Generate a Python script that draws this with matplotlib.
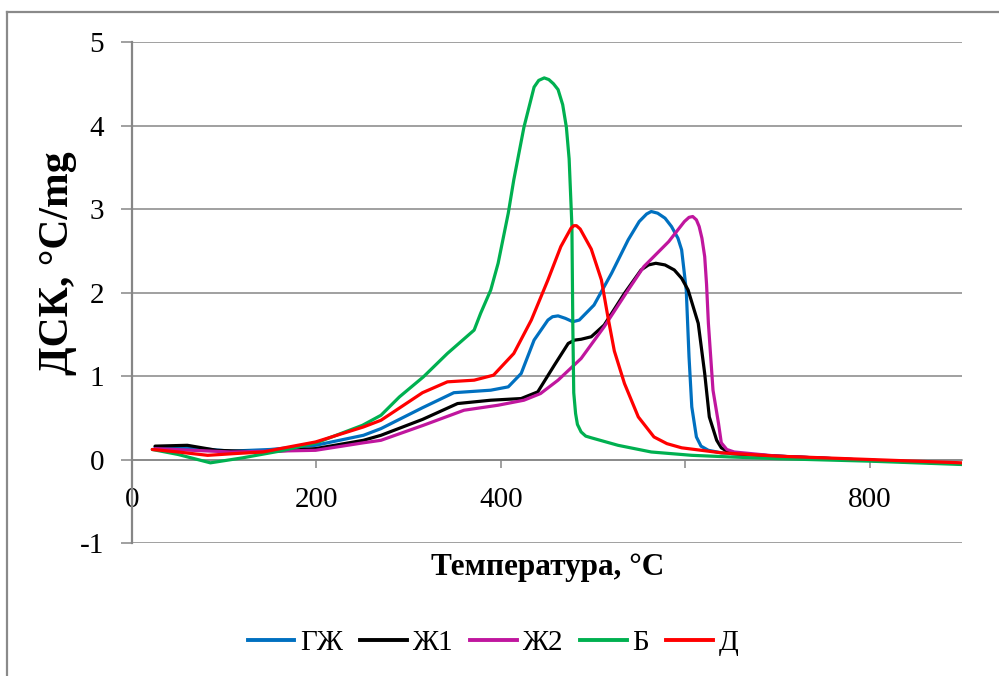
import matplotlib
matplotlib.use("Agg")
import matplotlib.pyplot as plt
from matplotlib.lines import Line2D

plt.rcParams['font.family'] = ['Liberation Serif', 'DejaVu Serif']

# ---- data ----
t_gzh = [25, 63, 107, 150, 199, 251, 270, 315, 349, 389, 408, 422, 436, 451, 456, 462, 470, 478, 485, 501, 520, 538, 550, 558, 563, 570, 578, 585, 592, 596, 601, 604, 607, 612, 617, 625, 639, 700, 800, 900]
v_gzh = [0.15, 0.14, 0.10, 0.12, 0.17, 0.29, 0.37, 0.62, 0.80, 0.83, 0.87, 1.03, 1.43, 1.67, 1.71, 1.72, 1.69, 1.65, 1.67, 1.85, 2.23, 2.63, 2.85, 2.94, 2.97, 2.95, 2.89, 2.79, 2.65, 2.51, 2.03, 1.23, 0.63, 0.27, 0.16, 0.11, 0.08, 0.04, -0.01, -0.05]

t_zh1 = [25, 60, 92, 142, 199, 251, 270, 315, 353, 389, 422, 440, 458, 473, 480, 487, 498, 512, 534, 552, 560, 568, 578, 588, 596, 603, 614, 621, 626, 634, 639, 650, 700, 800, 900]
v_zh1 = [0.16, 0.17, 0.11, 0.09, 0.13, 0.23, 0.29, 0.48, 0.67, 0.71, 0.73, 0.81, 1.13, 1.39, 1.43, 1.44, 1.47, 1.61, 1.99, 2.27, 2.33, 2.35, 2.33, 2.27, 2.17, 2.03, 1.63, 1.03, 0.51, 0.23, 0.14, 0.07, 0.04, -0.01, -0.05]

t_zh2 = [25, 107, 199, 251, 270, 316, 360, 397, 425, 443, 462, 487, 512, 538, 555, 582, 599, 604, 608, 612, 615, 618, 621, 623, 625, 630, 636, 639, 645, 653, 700, 800, 900]
v_zh2 = [0.13, 0.09, 0.11, 0.20, 0.23, 0.41, 0.59, 0.65, 0.71, 0.79, 0.95, 1.21, 1.59, 2.03, 2.31, 2.61, 2.85, 2.90, 2.91, 2.87, 2.79, 2.65, 2.43, 2.10, 1.63, 0.83, 0.43, 0.20, 0.12, 0.09, 0.04, -0.01, -0.05]

t_b = [22, 50, 85, 120, 160, 200, 250, 270, 290, 316, 342, 371, 378, 389, 397, 408, 414, 425, 436, 441, 447, 452, 457, 462, 467, 471, 474, 477, 478, 479, 481, 483, 487, 492, 498, 527, 563, 607, 650, 700, 800, 900]
v_b = [0.12, 0.06, -0.04, 0.02, 0.10, 0.20, 0.41, 0.53, 0.75, 0.99, 1.27, 1.55, 1.75, 2.03, 2.35, 2.95, 3.35, 3.98, 4.46, 4.54, 4.57, 4.55, 4.50, 4.43, 4.25, 3.98, 3.60, 2.80, 1.60, 0.80, 0.55, 0.42, 0.33, 0.28, 0.26, 0.17, 0.09, 0.05, 0.03, 0.01, -0.02, -0.06]

t_d = [22, 50, 82, 110, 142, 170, 199, 251, 270, 315, 342, 371, 392, 414, 433, 451, 465, 476, 479, 482, 486, 490, 498, 509, 516, 523, 534, 549, 566, 580, 596, 639, 700, 800, 900]
v_d = [0.12, 0.09, 0.05, 0.07, 0.09, 0.15, 0.21, 0.39, 0.47, 0.80, 0.93, 0.95, 1.01, 1.27, 1.67, 2.15, 2.55, 2.77, 2.80, 2.80, 2.76, 2.68, 2.52, 2.15, 1.71, 1.30, 0.91, 0.51, 0.27, 0.19, 0.14, 0.08, 0.04, 0.00, -0.04]

series_names = ['ГЖ', 'Ж1', 'Ж2', 'Б', 'Д']
series_colors = ['#0070C0', '#000000', '#C0169E', '#00B050', '#FF0000']
series_t = [t_gzh, t_zh1, t_zh2, t_b, t_d]
series_v = [v_gzh, v_zh1, v_zh2, v_b, v_d]

x_ticks = [0, 200, 400, 600, 800]
x_tick_labels = ['0', '200', '400', '', '800']
y_ticks = [-1, 0, 1, 2, 3, 4, 5]
y_tick_labels = ['-1', '0', '1', '2', '3', '4', '5']

W, H = 999, 676
fig = plt.figure(figsize=(W / 100, H / 100), dpi=100)
fig.patch.set_facecolor('white')

# outer frame (only top and left visible in reference)
fig.add_artist(Line2D([7 / W, 1.0], [1 - 12 / H, 1 - 12 / H], color='#8a8a8a', lw=1.6, transform=fig.transFigure))
fig.add_artist(Line2D([7 / W, 7 / W], [0.0, 1 - 12 / H], color='#8a8a8a', lw=1.6, transform=fig.transFigure))

left, right, top, bottom = 132, 962, 42, 543
ax = fig.add_axes([left / W, 1 - bottom / H, (right - left) / W, (bottom - top) / H])

grid_c = '#868686'
for t, v, c, n in zip(series_t, series_v, series_colors, series_names):
    ax.plot(t, v, color=c, lw=2.3, label=n, solid_joinstyle='round', solid_capstyle='round', zorder=3)

ax.set_xlim(0, 900)
ax.set_ylim(-1, 5)
ax.set_yticks(y_ticks)
ax.set_yticklabels(y_tick_labels)
ax.set_xticks(x_ticks)
ax.set_xticklabels(x_tick_labels)

for yv in y_ticks:
    ax.axhline(yv, color=grid_c, lw=1.1, zorder=1)

for s in ['top', 'right']:
    ax.spines[s].set_visible(False)
ax.spines['bottom'].set_position(('data', 0))
ax.spines['bottom'].set_color(grid_c)
ax.spines['bottom'].set_linewidth(1.1)
ax.spines['left'].set_color(grid_c)
ax.spines['left'].set_linewidth(1.6)

ax.tick_params(axis='y', direction='out', length=8, width=1.1, color=grid_c, pad=12, labelsize=21)
ax.tick_params(axis='x', direction='out', length=6, width=1.1, color=grid_c, pad=14, labelsize=21)
for lbl in ax.get_xticklabels() + ax.get_yticklabels():
    lbl.set_color('black')

fig.text(548 / W, 1 - 567 / H, 'Температура, °С', ha='center', va='center',
         fontsize=22.5, fontweight='bold')
fig.text(58 / W, 1 - 263 / H, 'ДСК, °C/mg', ha='center', va='center',
         fontsize=30, fontweight='bold', rotation=90)

handles = [Line2D([0], [0], color=c, lw=2.8) for c in series_colors]
fig.legend(handles, series_names, loc='center', bbox_to_anchor=(493 / W, 1 - 643 / H),
           ncol=5, frameon=False, fontsize=21, handlelength=1.6, handletextpad=0.2,
           columnspacing=0.58, borderpad=0, borderaxespad=0)

fig.savefig('out.png', dpi=100, facecolor='white')
